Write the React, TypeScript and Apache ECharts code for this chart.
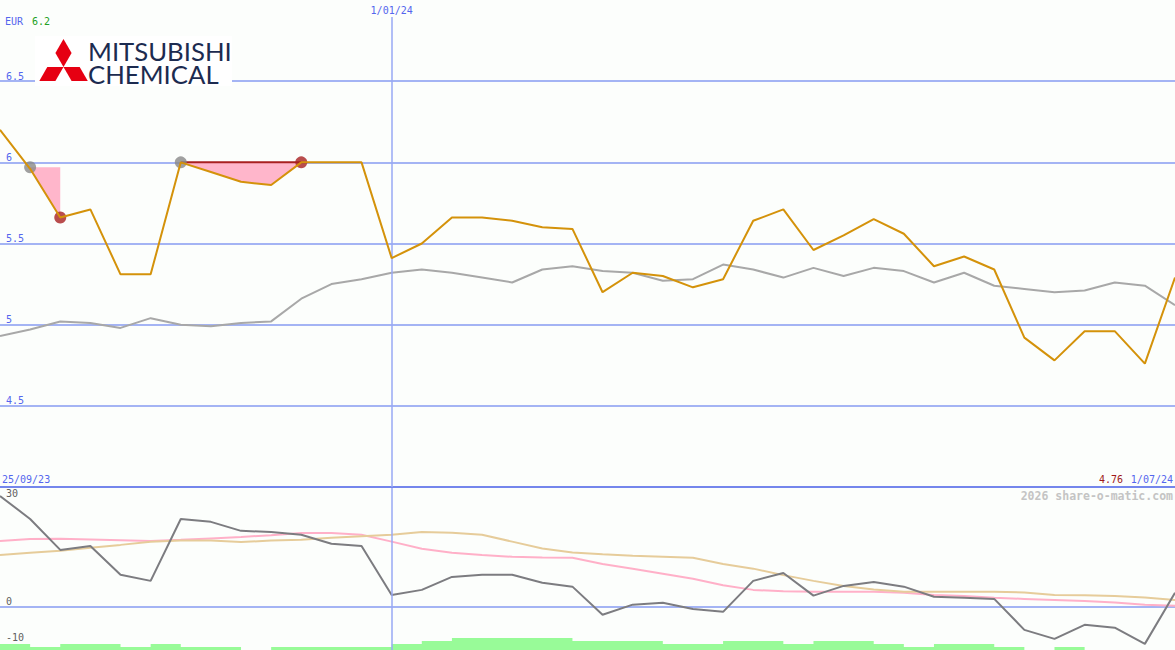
import React, { useEffect, useRef } from 'react';
import * as echarts from 'echarts';

// ---- data ----
const weeks = ['25/09/23','2/10/23','9/10/23','16/10/23','23/10/23','30/10/23','6/11/23','13/11/23','20/11/23','27/11/23','4/12/23','11/12/23','18/12/23','25/12/23','1/01/24','8/01/24','15/01/24','22/01/24','29/01/24','5/02/24','12/02/24','19/02/24','26/02/24','4/03/24','11/03/24','18/03/24','25/03/24','1/04/24','8/04/24','15/04/24','22/04/24','29/04/24','6/05/24','13/05/24','20/05/24','27/05/24','3/06/24','10/06/24','17/06/24','24/06/24'];

const price = [6.2, 5.96, 5.66, 5.71, 5.31, 5.31, 6.0, 5.94, 5.88, 5.86, 6.0, 6.0, 6.0, 5.41, 5.5, 5.66, 5.66, 5.64, 5.6, 5.59, 5.2, 5.32, 5.3, 5.23, 5.28, 5.64, 5.71, 5.46, 5.55, 5.65, 5.56, 5.36, 5.42, 5.34, 4.92, 4.78, 4.96, 4.96, 4.76, 5.29];
const priceAvg = [4.93, 4.97, 5.02, 5.01, 4.98, 5.04, 5.0, 4.99, 5.01, 5.02, 5.16, 5.25, 5.28, 5.32, 5.34, 5.32, 5.29, 5.26, 5.34, 5.36, 5.33, 5.32, 5.27, 5.28, 5.37, 5.34, 5.29, 5.35, 5.3, 5.35, 5.33, 5.26, 5.32, 5.24, 5.22, 5.2, 5.21, 5.26, 5.24, 5.12];

const oscillator = [30.8, 24.4, 15.8, 16.9, 8.9, 7.2, 24.4, 23.6, 21.1, 20.8, 20.0, 17.5, 16.9, 3.3, 4.7, 8.3, 8.9, 8.9, 6.7, 5.6, -2.2, 0.6, 1.1, -0.6, -1.4, 7.2, 9.4, 3.1, 5.8, 6.9, 5.6, 2.8, 2.5, 2.2, -6.4, -8.9, -5.0, -5.8, -10.3, 3.9];
const oscPink = [18.3, 18.8, 18.9, 18.7, 18.5, 18.3, 18.6, 19.0, 19.4, 19.9, 20.5, 20.5, 20.0, 18.1, 16.1, 15.0, 14.4, 13.9, 13.7, 13.6, 11.9, 10.6, 9.2, 7.8, 6.0, 4.7, 4.3, 4.2, 4.2, 4.2, 3.9, 3.3, 3.0, 2.5, 2.2, 1.9, 1.6, 1.2, 0.6, 0.3];
const oscTan = [14.4, 15.0, 15.6, 16.4, 17.2, 18.1, 18.4, 18.4, 18.0, 18.4, 18.6, 19.2, 19.6, 20.0, 20.8, 20.6, 20.0, 18.1, 16.2, 15.1, 14.6, 14.2, 13.9, 13.6, 11.9, 10.6, 8.8, 7.2, 5.8, 4.8, 4.2, 4.2, 4.2, 4.2, 4.0, 3.3, 3.2, 3.0, 2.6, 1.9];
const volume = [2, 1, 2, 2, 1, 2, 1, 1, 0, 1, 1, 1, 1, 2, 3, 4, 4, 4, 4, 3, 3, 3, 2, 2, 3, 3, 2, 3, 3, 2, 1, 2, 2, 1, 0, 1, 0, 0, 0, 0];

// trades: entry (grey) and exit (red) indices with the entry level
const tradeEntry = [1, 6];
const tradeExit = [2, 10];
const tradeLevel = [5.97, 6.0];

const priceTicks = [4.5, 5, 5.5, 6, 6.5];
const oscTicks = [-10, 0, 30];
const oscGridTicks = [0];
const yearIdx = 13;
const yearLabel = '1/01/24';
const startLabel = '25/09/23';
const endLabel = '1/07/24';
const currency = 'EUR';
const maxLabel = '6.2';
const minLabel = '4.76';

// ---- styles ----
const MONO = '"DejaVu Sans Mono", monospace';
const BG = '#fcfefc';
const GRID = '#a4b4f4';
const VLINE = '#98a8f4';
const SEP = '#7486ec';
const BLUE_TXT = '#5466ee';
const GOLD = '#d4920a';
const PINK_FILL = '#ffb6cb';
const DARK_RED = '#a82020';

function seg(i: number, a: number, b: number, v: any) {
  return i >= a && i <= b ? v : '-';
}

export default function App() {
  const ref = useRef<HTMLDivElement>(null);
  useEffect(() => {
    if (!ref.current) return;
    const chart = echarts.init(ref.current, null, { renderer: 'svg' });

    const topTickVals = Array.from({ length: 7 }, (_, k) => 4 + k * 0.5);
    const topColors = topTickVals.map((v) => (priceTicks.includes(v) ? GRID : 'rgba(0,0,0,0)'));
    const lowTickVals = Array.from({ length: 46 }, (_, k) => -12 + k);
    const lowColors = lowTickVals.map((v) => (oscGridTicks.includes(v) ? GRID : 'rgba(0,0,0,0)'));

    const vStyle = { color: VLINE, width: 1.5, type: 'solid', opacity: 1 };

    const fillSeries: any[] = [];
    tradeEntry.forEach((a, t) => {
      const b = tradeExit[t];
      const lvl = tradeLevel[t];
      fillSeries.push({
        type: 'line', xAxisIndex: 0, yAxisIndex: 0, stack: 'trade' + t, z: 1,
        data: weeks.map((_, i) => seg(i, a, b, price[i])),
        symbol: 'none', lineStyle: { opacity: 0 }, silent: true,
      });
      fillSeries.push({
        type: 'line', xAxisIndex: 0, yAxisIndex: 0, stack: 'trade' + t, z: 1,
        data: weeks.map((_, i) => seg(i, a, b, +(lvl - price[i]).toFixed(3))),
        symbol: 'none', lineStyle: { opacity: 0 }, areaStyle: { color: PINK_FILL, opacity: 1 }, silent: true,
      });
    });

    const option: any = {
      animation: false,
      backgroundColor: BG,
      grid: [
        { left: 0, right: 0, top: 0, height: 487 },
        { left: 0, right: 0, top: 488, height: 162 },
      ],
      xAxis: [
        {
          type: 'category', gridIndex: 0, data: weeks, boundaryGap: false,
          axisLine: { show: true, onZero: false, lineStyle: { color: SEP, width: 2 } },
          axisTick: { show: false }, axisLabel: { show: false }, splitLine: { show: false },
        },
        {
          type: 'category', gridIndex: 1, data: weeks, boundaryGap: false,
          axisLine: { show: false }, axisTick: { show: false }, axisLabel: { show: false }, splitLine: { show: false },
        },
      ],
      yAxis: [
        {
          type: 'value', gridIndex: 0, min: 4, max: 7, interval: 0.5,
          axisLine: { show: false }, axisTick: { show: false },
          axisLabel: {
            inside: true, margin: 6, verticalAlign: 'bottom', color: BLUE_TXT, fontSize: 10, fontFamily: MONO,
            formatter: (v: number) => (priceTicks.includes(v) ? String(v) : ''),
          },
          splitLine: { show: true, lineStyle: { color: topColors, width: 2 } },
        },
        {
          type: 'value', gridIndex: 1, min: -12, max: 33, interval: 1,
          axisLine: { show: false }, axisTick: { show: false },
          axisLabel: {
            inside: true, margin: 6, verticalAlign: 'bottom', color: '#606060', fontSize: 10, fontFamily: MONO,
            formatter: (v: number) => (oscTicks.includes(v) ? String(v) : ''),
          },
          splitLine: { show: true, lineStyle: { color: lowColors, width: 2 } },
        },
        { type: 'value', gridIndex: 1, min: 0, max: 54, show: false, splitLine: { show: false } },
      ],
      series: [
        {
          type: 'line', xAxisIndex: 0, yAxisIndex: 0, data: priceAvg, symbol: 'none', z: 2,
          lineStyle: { color: '#a8a8a8', width: 2 },
          markLine: {
            silent: true, symbol: ['none', 'none'],
            lineStyle: vStyle,
            label: { show: true, position: 'start', formatter: yearLabel, color: BLUE_TXT, fontSize: 10, fontFamily: MONO, distance: 2 },
            data: [[{ coord: [yearIdx, 6.895], lineStyle: vStyle }, { coord: [yearIdx, 4] }]],
          },
        },
        ...fillSeries,
        {
          type: 'line', xAxisIndex: 0, yAxisIndex: 0, z: 3, symbol: 'none',
          data: weeks.map((_, i) => seg(i, tradeEntry[1], tradeExit[1], tradeLevel[1])),
          lineStyle: { color: DARK_RED, width: 2 },
        },
        {
          type: 'scatter', xAxisIndex: 0, yAxisIndex: 0, z: 3, symbolSize: 12,
          data: weeks.map((_, i) => { const t = tradeEntry.indexOf(i); return t >= 0 ? tradeLevel[t] : '-'; }),
          itemStyle: { color: '#888888' },
        },
        {
          type: 'scatter', xAxisIndex: 0, yAxisIndex: 0, z: 3, symbolSize: 12,
          data: weeks.map((_, i) => (tradeExit.includes(i) ? price[i] : '-')),
          itemStyle: { color: DARK_RED },
        },
        {
          type: 'line', xAxisIndex: 0, yAxisIndex: 0, data: price, symbol: 'none', z: 5,
          lineStyle: { color: GOLD, width: 2 },
        },
        {
          type: 'line', xAxisIndex: 1, yAxisIndex: 2, data: volume, symbol: 'none', step: 'end', z: 1,
          lineStyle: { width: 0 }, areaStyle: { color: '#98fb98', opacity: 1 },
        },
        {
          type: 'line', xAxisIndex: 1, yAxisIndex: 1, data: oscPink, symbol: 'none', z: 2,
          lineStyle: { color: '#ffb0c8', width: 2 },
        },
        {
          type: 'line', xAxisIndex: 1, yAxisIndex: 1, data: oscTan, symbol: 'none', z: 2,
          lineStyle: { color: '#e6cc9a', width: 2 },
        },
        {
          type: 'line', xAxisIndex: 1, yAxisIndex: 1, data: oscillator, symbol: 'none', z: 3,
          lineStyle: { color: '#7c7c80', width: 2 },
          markLine: {
            silent: true, symbol: ['none', 'none'],
            lineStyle: vStyle,
            label: { show: false },
            data: [{ xAxis: yearIdx, lineStyle: vStyle }],
          },
        },
      ],
      graphic: [
        { type: 'rect', z: 50, shape: { x: 35, y: 36, width: 197, height: 50 }, style: { fill: '#ffffff' } },
        { type: 'polygon', z: 51, shape: { points: [[63.5, 39], [55.4, 53], [63.5, 67], [71.6, 53]] }, style: { fill: '#e60012' } },
        { type: 'polygon', z: 51, shape: { points: [[63.5, 67], [47.3, 67], [39.3, 81], [55.4, 81]] }, style: { fill: '#e60012' } },
        { type: 'polygon', z: 51, shape: { points: [[63.5, 67], [79.7, 67], [87.8, 81], [71.6, 81]] }, style: { fill: '#e60012' } },
        {
          type: 'text', z: 51, x: 88, y: 39, scaleX: 1.03,
          style: { text: 'MITSUBISHI\nCHEMICAL', fill: '#1c2b50', font: '25px Lato', lineHeight: 23.5, textVerticalAlign: 'top' },
        },
        { type: 'text', z: 60, x: 5, y: 21, style: { text: currency, fill: BLUE_TXT, font: '10px ' + MONO, textVerticalAlign: 'middle' } },
        { type: 'text', z: 60, x: 32, y: 21, style: { text: maxLabel, fill: '#22a022', font: '10px ' + MONO, textVerticalAlign: 'middle' } },
        { type: 'text', z: 60, x: 2, y: 479, style: { text: startLabel, fill: BLUE_TXT, font: '10px ' + MONO, textVerticalAlign: 'middle' } },
        { type: 'text', z: 60, x: 1173, y: 479, style: { text: endLabel, fill: BLUE_TXT, font: '10px ' + MONO, textAlign: 'right', textVerticalAlign: 'middle' } },
        { type: 'text', z: 60, x: 1123, y: 479, style: { text: minLabel, fill: '#a01818', font: '10px ' + MONO, textAlign: 'right', textVerticalAlign: 'middle' } },
        { type: 'text', z: 60, x: 1173, y: 496, style: { text: '2026 share-o-matic.com', fill: '#c4c4c4', font: 'bold 11.5px ' + MONO, textAlign: 'right', textVerticalAlign: 'middle' } },
      ],
    };
    chart.setOption(option);
    return () => chart.dispose();
  }, []);
  return <div ref={ref} style={{ position: 'fixed', left: 0, top: 0, width: 1175, height: 650 }} />;
}
